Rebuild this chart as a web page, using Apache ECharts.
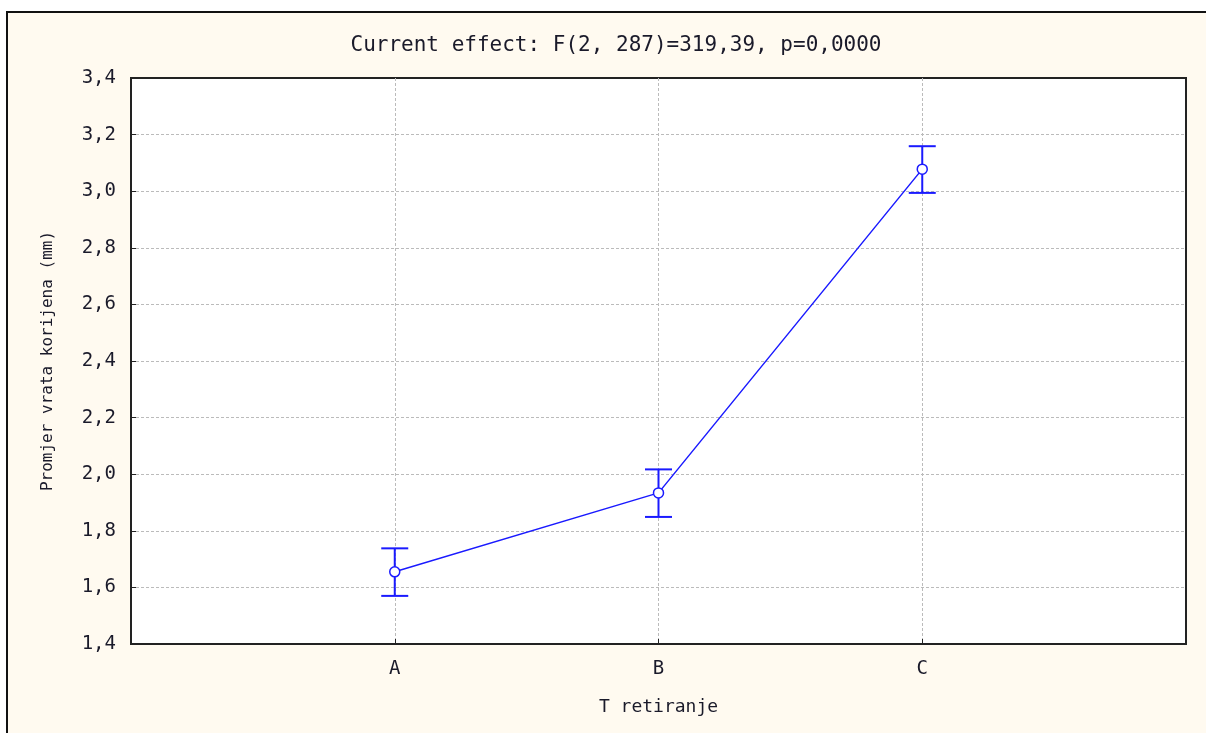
<!DOCTYPE html>
<html>
<head>
<meta charset="utf-8">
<script src="https://cdn.jsdelivr.net/npm/echarts@6/dist/echarts.min.js"></script>
<style>
  html, body { margin: 0; padding: 0; background: #fff; }
  #chart { width: 1206px; height: 733px; }
</style>
</head>
<body>
<div id="chart"></div>
<script>
// categories on the x axis (empty slots pad the ends)
const categories = ['', 'A', 'B', 'C', '']
const groups = ['A', 'B', 'C']
// means and error bar limits
const means = [1.655, 1.934, 3.078]
const lower = [1.570, 1.849, 2.994]
const upper = [1.738, 2.017, 3.159]

const yMin = 1.4
const yMax = 3.4
const yStep = 0.2

const blue = '#1a1aff'
const font = '"DejaVu Sans Mono", monospace'
const textColor = '#1a1a2a'
const gridLine = { show: true, showMinLine: false, showMaxLine: false, lineStyle: { color: '#bbbbbb', type: [3, 2], width: 1 } }

let myChart = echarts.init(document.getElementById('chart'))

let option = {
  backgroundColor: '#fff',
  animation: false,
  graphic: [{
    type: 'rect',
    z: -10,
    silent: true,
    shape: { x: 7, y: 12, width: 1400, height: 900 },
    style: { fill: '#fffaf0', stroke: '#111', lineWidth: 2 }
  }],
  title: {
    text: 'Current effect: F(2, 287)=319,39, p=0,0000',
    left: 611,
    textAlign: 'center',
    top: 30,
    textStyle: { fontFamily: font, fontSize: 21, fontWeight: 'normal', color: textColor }
  },
  grid: {
    left: 131,
    top: 78,
    right: 20,
    bottom: 89,
    show: true,
    backgroundColor: '#fff',
    borderColor: '#222',
    borderWidth: 2
  },
  xAxis: {
    type: 'category',
    data: categories,
    boundaryGap: false,
    name: 'T retiranje',
    nameLocation: 'middle',
    nameGap: 54,
    nameTextStyle: { fontFamily: font, fontSize: 18, color: textColor },
    axisLine: { show: false },
    axisTick: { inside: true, length: 5, lineStyle: { color: '#222' } },
    axisLabel: { fontFamily: font, fontSize: 19, color: textColor, margin: 16 },
    splitLine: gridLine
  },
  yAxis: {
    type: 'value',
    min: yMin,
    max: yMax,
    interval: yStep,
    name: 'Promjer vrata korijena (mm)',
    nameLocation: 'middle',
    nameGap: 75,
    nameTextStyle: { fontFamily: font, fontSize: 16, color: textColor },
    axisLine: { show: false },
    axisTick: { show: true, inside: true, length: 5, lineStyle: { color: '#222' } },
    axisLabel: {
      fontFamily: font, fontSize: 19, color: textColor, margin: 15,
      formatter: function (v) { return v.toFixed(1).replace('.', ',') }
    },
    splitLine: gridLine
  },
  series: [
    {
      type: 'custom',
      z: 3,
      data: groups.map((g, i) => [g, lower[i], upper[i]]),
      renderItem: function (params, api) {
        const x = api.value(0)
        const lo = api.coord([x, api.value(1)])
        const hi = api.coord([x, api.value(2)])
        const half = 13.5
        const style = { stroke: blue, lineWidth: 2 }
        return {
          type: 'group',
          children: [
            { type: 'line', shape: { x1: lo[0], y1: lo[1], x2: hi[0], y2: hi[1] }, style: style },
            { type: 'line', shape: { x1: lo[0] - half, y1: lo[1], x2: lo[0] + half, y2: lo[1] }, style: style },
            { type: 'line', shape: { x1: hi[0] - half, y1: hi[1], x2: hi[0] + half, y2: hi[1] }, style: style }
          ]
        }
      }
    },
    {
      type: 'line',
      z: 4,
      data: groups.map((g, i) => [g, means[i]]),
      symbol: 'circle',
      symbolSize: 10,
      lineStyle: { color: blue, width: 1.5 },
      itemStyle: { color: '#fff', borderColor: blue, borderWidth: 1.5 }
    }
  ]
}

myChart.setOption(option)
</script>
</body>
</html>
